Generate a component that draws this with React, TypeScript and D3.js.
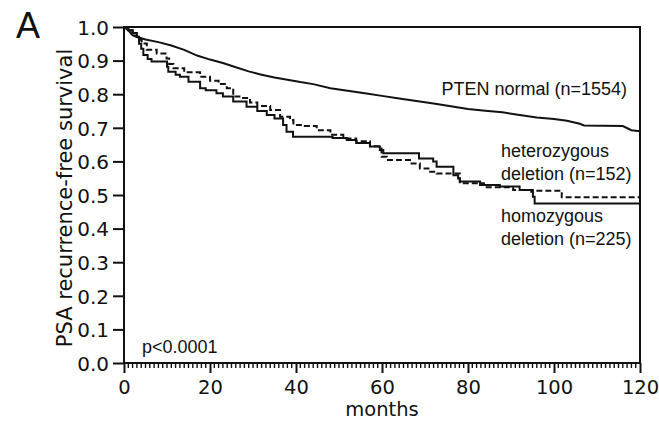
import React, { useRef, useEffect } from "react";
import * as d3 from "d3";

// PTEN normal (n=1554)
const ptenMonths = [0, 1, 2, 3, 5, 8, 11, 14, 17, 20, 23, 26, 29, 32, 35, 38, 41, 44, 48, 52, 56, 60, 64, 68, 72, 76, 80, 84, 88, 92, 96, 100, 103, 106, 107, 116, 118, 120];
const ptenSurv = [1.0, 0.99, 0.976, 0.97, 0.963, 0.955, 0.945, 0.932, 0.915, 0.903, 0.893, 0.88, 0.868, 0.858, 0.85, 0.843, 0.836, 0.83, 0.818, 0.81, 0.803, 0.795, 0.787, 0.78, 0.772, 0.764, 0.756, 0.751, 0.746, 0.738, 0.731, 0.726, 0.721, 0.712, 0.707, 0.705, 0.693, 0.69];

// heterozygous deletion (n=152), dashed
const hetMonths = [0, 1, 2, 3, 4.1, 5.3, 7.6, 9.9, 10.5, 11.5, 14, 17.7, 20, 22, 23.9, 25.4, 27.7, 29.3, 31, 34, 36.3, 38.6, 39.4, 41.6, 44.8, 48, 51, 54, 57.2, 59.9, 61.1, 66.5, 68.8, 70.8, 72.7, 78.1, 83.7, 90.5, 95.1, 101.8, 120];
const hetSurv = [1.0, 0.99, 0.975, 0.962, 0.951, 0.932, 0.921, 0.906, 0.89, 0.877, 0.865, 0.852, 0.84, 0.83, 0.818, 0.793, 0.789, 0.775, 0.765, 0.753, 0.733, 0.723, 0.708, 0.705, 0.693, 0.679, 0.668, 0.66, 0.645, 0.614, 0.604, 0.594, 0.579, 0.569, 0.564, 0.535, 0.523, 0.515, 0.513, 0.493, 0.493];

// homozygous deletion (n=225), solid
const homMonths = [0, 1, 2, 3, 3.5, 4, 4.5, 5.5, 6.4, 10, 10.3, 12, 13, 15, 17.7, 19, 21.5, 23, 25.4, 28.5, 31, 33.2, 35, 37, 37.8, 39.3, 48.5, 51.8, 54, 57.2, 59.5, 60.3, 68.6, 71.9, 72.7, 76.6, 77.7, 78.1, 82.8, 87.4, 92, 94.7, 95.1, 95.5, 120];
const homSurv = [1.0, 0.99, 0.982, 0.971, 0.95, 0.935, 0.917, 0.905, 0.897, 0.882, 0.867, 0.858, 0.852, 0.837, 0.818, 0.812, 0.803, 0.793, 0.778, 0.763, 0.75, 0.738, 0.728, 0.708, 0.688, 0.673, 0.67, 0.664, 0.655, 0.644, 0.634, 0.624, 0.609, 0.6, 0.584, 0.559, 0.549, 0.54, 0.53, 0.525, 0.515, 0.51, 0.495, 0.475, 0.475];

const yTicks = [0, 0.1, 0.2, 0.3, 0.4, 0.5, 0.6, 0.7, 0.8, 0.9, 1.0];
const xTicks = [0, 20, 40, 60, 80, 100, 120];

export default function App() {
    const svgRef = useRef(null);

    useEffect(() => {
        const W = 659;
        const H = 424;
        const margin = { top: 27, right: 19, bottom: 61, left: 124 };

        const svg = d3.select(svgRef.current);
        svg.selectAll('*').remove();

        const x = d3.scaleLinear([0, 120], [margin.left, W - margin.right]);
        const y = d3.scaleLinear([0, 1], [H - margin.bottom, margin.top]);
        const tickFont = '"DejaVu Sans", Verdana, sans-serif';
        const labFont = '"Liberation Sans", Arial, sans-serif';

        // box
        svg.append('rect')
            .attr('x', x(0)).attr('y', y(1))
            .attr('width', x(120) - x(0)).attr('height', y(0) - y(1))
            .attr('fill', 'none').attr('stroke', '#111').attr('stroke-width', 2);

        // y axis
        const yAxis = d3.axisLeft(y).tickValues(yTicks).tickFormat(d3.format('.1f')).tickSize(11).tickPadding(4);
        const gy = svg.append('g').attr('transform', `translate(${x(0)},0)`).call(yAxis);
        gy.select('.domain').remove();
        gy.selectAll('line').attr('stroke', '#111').attr('stroke-width', 2);
        gy.selectAll('text').attr('font-family', tickFont).attr('font-size', 20).attr('fill', '#111').attr('dy', '0.36em');

        // x minor ticks (monthly)
        svg.append('g').selectAll('line')
            .data(d3.range(1, 120).filter(m => m % 20 !== 0))
            .enter().append('line')
            .attr('x1', d => x(d)).attr('x2', d => x(d))
            .attr('y1', y(0)).attr('y2', y(0) + 5)
            .attr('stroke', '#111').attr('stroke-width', 1.4);

        // x axis
        const xAxis = d3.axisBottom(x).tickValues(xTicks).tickFormat(d3.format('d')).tickSize(10).tickPadding(7);
        const gx = svg.append('g').attr('transform', `translate(0,${y(0)})`).call(xAxis);
        gx.select('.domain').remove();
        gx.selectAll('line').attr('stroke', '#111').attr('stroke-width', 2);
        gx.selectAll('text').attr('font-family', tickFont).attr('font-size', 19.5).attr('fill', '#111');

        svg.append('text')
            .attr('x', (x(0) + x(120)) / 2).attr('y', 416)
            .attr('text-anchor', 'middle')
            .attr('font-family', tickFont).attr('font-size', 19.5).attr('fill', '#111')
            .text('months');

        svg.append('text')
            .attr('transform', `translate(72,${(y(0) + y(1)) / 2 + 3}) rotate(-90)`)
            .attr('text-anchor', 'middle')
            .attr('font-family', tickFont).attr('font-size', 21).attr('fill', '#111')
            .text('PSA recurrence-free survival');

        svg.append('text')
            .attr('x', 16).attr('y', 38)
            .attr('font-family', labFont).attr('font-size', 36).attr('fill', '#111')
            .text('A');

        // curves
        const series = [
            { t: ptenMonths, s: ptenSurv, curve: d3.curveLinear, dash: null },
            { t: hetMonths, s: hetSurv, curve: d3.curveStepAfter, dash: '6,3' },
            { t: homMonths, s: homSurv, curve: d3.curveStepAfter, dash: null },
        ];
        series.forEach(sr => {
            const pts = sr.t.map((m, i) => [m, sr.s[i]]);
            const line = d3.line().x(d => x(d[0])).y(d => y(d[1])).curve(sr.curve);
            svg.append('path')
                .attr('d', line(pts))
                .attr('fill', 'none')
                .attr('stroke', '#111')
                .attr('stroke-width', 2)
                .attr('stroke-dasharray', sr.dash);
        });

        // annotations
        const ann = svg.append('g').attr('font-family', labFont).attr('font-size', 18).attr('fill', '#111');
        ann.append('text').attr('x', 627).attr('y', 95).attr('text-anchor', 'end').text('PTEN normal (n=1554)');
        ann.append('text').attr('x', 501).attr('y', 157).text('heterozygous');
        ann.append('text').attr('x', 501).attr('y', 180).text('deletion (n=152)');
        ann.append('text').attr('x', 501).attr('y', 222).text('homozygous');
        ann.append('text').attr('x', 501).attr('y', 245).text('deletion (n=225)');
        ann.append('text').attr('x', 142).attr('y', 353).text('p<0.0001');
    }, []);

    return (
        <svg ref={svgRef} width={659} height={424}
            style={{ position: 'absolute', left: 0, top: 0, background: '#fff' }} />
    );
}
